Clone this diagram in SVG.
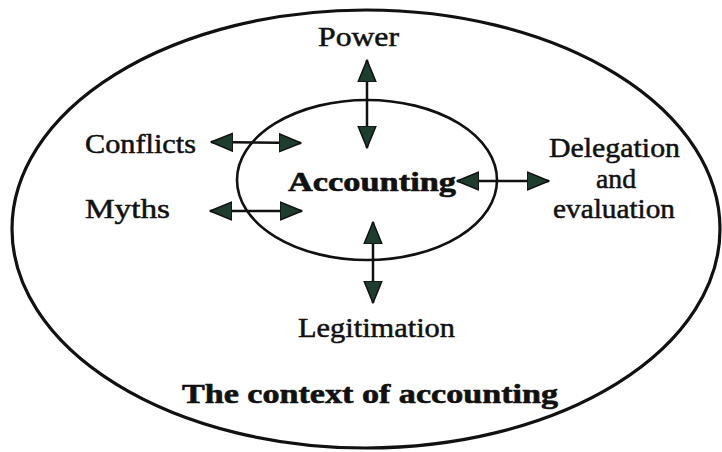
<svg xmlns="http://www.w3.org/2000/svg" width="722" height="452" viewBox="0 0 722 452">
<style>
.lbl{font-family:"Liberation Serif","Times New Roman",serif;font-size:27px;fill:#111;stroke:#111;stroke-width:0.5;}
.bold{font-weight:bold;stroke-width:0.6;}
.ell{fill:none;stroke:#111;}
.conn{stroke:#111;stroke-width:2.5;fill:none;marker-start:url(#ah);marker-end:url(#ah);}
</style>
<defs>
<marker id="ah" viewBox="0 0 23 20" refX="22" refY="10" markerWidth="23" markerHeight="20" markerUnits="userSpaceOnUse" orient="auto-start-reverse">
<path d="M0,1 L22,10 L0,19 z" fill="#1f3d2e" stroke="#111" stroke-width="1.5" stroke-linejoin="round"/>
</marker>
</defs>
<rect width="722" height="452" fill="#fff"/>
<g id="context">
<ellipse class="ell" cx="366" cy="229" rx="354" ry="219" stroke-width="3.2"/>
<text class="lbl bold" x="182" y="403" font-size="30" textLength="376" lengthAdjust="spacingAndGlyphs">The context of accounting</text>
</g>
<g id="accounting">
<ellipse class="ell" cx="367" cy="180" rx="130" ry="80" stroke-width="2.6"/>
<text class="lbl bold" x="288" y="191" font-size="28" textLength="168" lengthAdjust="spacingAndGlyphs">Accounting</text>
</g>
<g id="power"><text class="lbl" x="318" y="46" textLength="81" lengthAdjust="spacingAndGlyphs">Power</text></g>
<g id="conflicts"><text class="lbl" x="85" y="153" textLength="111" lengthAdjust="spacingAndGlyphs">Conflicts</text></g>
<g id="myths"><text class="lbl" x="85" y="218" textLength="85" lengthAdjust="spacingAndGlyphs">Myths</text></g>
<g id="delegation">
<text class="lbl" x="549" y="157" textLength="131" lengthAdjust="spacingAndGlyphs">Delegation</text>
<text class="lbl" x="596" y="188" textLength="40" lengthAdjust="spacingAndGlyphs">and</text>
<text class="lbl" x="553" y="218" textLength="122" lengthAdjust="spacingAndGlyphs">evaluation</text>
</g>
<g id="legitimation"><text class="lbl" x="298" y="337" textLength="157" lengthAdjust="spacingAndGlyphs">Legitimation</text></g>
<g id="connectors">
<line class="conn" x1="367" y1="60" x2="367" y2="148"/>
<line class="conn" x1="373" y1="222" x2="373" y2="303"/>
<line class="conn" x1="211" y1="142" x2="301" y2="143"/>
<line class="conn" x1="210" y1="211" x2="302" y2="211"/>
<line class="conn" x1="457" y1="181" x2="549" y2="181"/>
</g>
</svg>
